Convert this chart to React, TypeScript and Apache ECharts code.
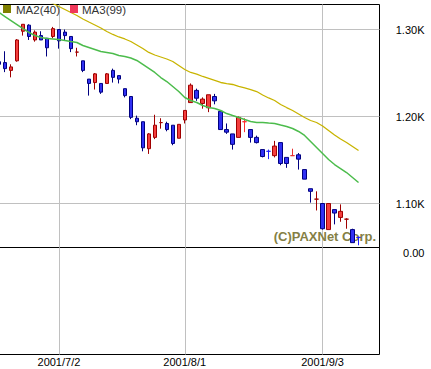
import React, { useEffect, useRef } from 'react';
import * as echarts from 'echarts';

const dates = [
  '2001/6/18','2001/6/19','2001/6/20','2001/6/21','2001/6/22','2001/6/25','2001/6/26','2001/6/27','2001/6/28','2001/6/29',
  '2001/7/2','2001/7/3','2001/7/4','2001/7/5','2001/7/6','2001/7/9','2001/7/10','2001/7/11','2001/7/12','2001/7/13',
  '2001/7/16','2001/7/18','2001/7/19','2001/7/20','2001/7/23','2001/7/24','2001/7/25','2001/7/26','2001/7/27',
  '2001/7/30','2001/7/31','2001/8/1','2001/8/2','2001/8/3','2001/8/6','2001/8/7','2001/8/8','2001/8/9','2001/8/10',
  '2001/8/13','2001/8/14','2001/8/15','2001/8/16','2001/8/17','2001/8/20','2001/8/21','2001/8/22','2001/8/23','2001/8/24',
  '2001/8/27','2001/8/28','2001/8/29','2001/8/30','2001/8/31','2001/9/3','2001/9/4','2001/9/5','2001/9/6','2001/9/7',
  '2001/9/10','2001/9/11','2001/9/12','2001/9/13','2001/9/14',
];

const opens = [1263,1262,1253,1264,1298,1305,1288,1293,1290,1292,1300,1297,1292,1274,1264,1243,1239,1238,1238,1253,1247,1232,1223,1198,1194,1163,1176,1193,1192,1190,1175,1196,1216,1230,1215,1210,1223,1206,1185,1180,1176,1194,1185,1176,1162,1160,1155,1170,1153,1155,1156,1139,1117,1105,1100,1070,1093,1084,1082,1070,1061];
const closes = [1260,1255,1257,1288,1306,1292,1297,1288,1279,1301,1287,1293,1278,1274,1253,1238,1249,1228,1249,1245,1243,1224,1199,1194,1164,1180,1190,1193,1185,1169,1191,1207,1236,1221,1220,1225,1218,1185,1182,1168,1199,1194,1176,1170,1154,1160,1166,1146,1146,1155,1151,1128,1114,1105,1071,1100,1089,1091,1082,1055,1061];
const lows = [1257,1251,1245,1263,1293,1288,1286,1288,1269,1290,1278,1288,1274,1269,1251,1224,1231,1226,1238,1239,1238,1222,1197,1190,1160,1157,1174,1186,1183,1167,1175,1192,1216,1218,1209,1205,1214,1185,1180,1162,1176,1182,1170,1169,1153,1151,1153,1144,1141,1155,1139,1128,1101,1092,1070,1070,1076,1079,1071,1055,1052];
const highs = [1267,1275,1260,1289,1306,1306,1299,1298,1290,1303,1300,1300,1292,1279,1264,1243,1250,1238,1250,1255,1247,1232,1223,1201,1194,1181,1202,1198,1194,1190,1191,1207,1238,1232,1222,1225,1226,1206,1192,1180,1200,1198,1185,1178,1162,1162,1172,1170,1153,1163,1158,1139,1117,1114,1100,1100,1093,1099,1083,1071,1062];

const ma1 = [1319.5,1314.9,1310.3,1305.7,1301.1,1296.6,1293.1,1290.8,1289.7,1289.1,1288.5,1287.4,1286.2,1285.1,1281.6,1279.3,1277.0,1274.7,1273.6,1272.4,1270.1,1269.0,1267.2,1264.4,1259.8,1255.2,1250.6,1244.8,1240.2,1234.5,1228.7,1221.8,1218.4,1216.1,1212.6,1210.3,1209.2,1206.9,1203.4,1201.1,1198.9,1196.5,1194.2,1193.1,1193.1,1192.5,1192.0,1190.2,1188.5,1186.2,1182.8,1178.2,1171.3,1164.4,1157.5,1150.6,1144.8,1140.2,1135.6,1129.9,1124.1];
const ma2 = [null,null,null,null,null,null,null,null,1333.3,1329.9,1326.4,1323.0,1319.5,1316.1,1312.1,1308.6,1305.2,1301.7,1297.7,1294.3,1291.4,1289.1,1286.2,1282.2,1278.2,1273.6,1270.7,1268.4,1266.1,1263.2,1258.6,1254.0,1250.6,1248.8,1246.0,1243.7,1241.4,1239.1,1237.9,1236.8,1234.5,1232.8,1231.0,1228.7,1224.7,1221.3,1218.4,1213.8,1210.3,1206.9,1202.9,1198.9,1195.4,1193.1,1189.1,1183.9,1178.7,1174.1,1170.1,1165.5,1160.9];

const labelDates = ['2001/7/2', '2001/8/1', '2001/9/3'];
const legendNames = ['MA2(40)', 'MA3(99)'];
const copyright = '(C)PAXNet Corp.';

// colours of the doji crosses (style only)
const dojiColors: Record<number, string> = {
  13: '#a00000', 27: '#a00000', 41: '#ff3030', 45: '#2020ff',
  49: '#e83030', 53: '#a00000', 58: '#a00000', 60: '#2020ff',
};

const FONT = 'Liberation Sans, Arial, sans-serif';

export default function App() {
  const ref = useRef<HTMLDivElement>(null);
  useEffect(() => {
    if (!ref.current) return;
    const chart = echarts.init(ref.current, undefined, { renderer: 'svg' });
    const candleData = opens.map((o, i) => {
      const v = [o, closes[i], lows[i], highs[i]];
      const dc = dojiColors[i];
      return dc
        ? { value: v, itemStyle: { color: dc, color0: dc, borderColor: dc, borderColor0: dc, borderColorDoji: dc } }
        : v;
    });
    const isLabel = (_i: number, v: string) => labelDates.indexOf(v) >= 0;
    const xCommon = {
      type: 'category' as const,
      data: dates,
      boundaryGap: true,
      axisLine: { show: false },
      axisTick: { show: false },
      splitLine: {
        show: true,
        interval: isLabel,
        alignWithLabel: true,
        lineStyle: { color: '#c0c0c0', width: 1 },
      },
    };
    chart.setOption({
      animation: false,
      backgroundColor: '#ffffff',
      grid: [
        { left: 0, top: 4.5, width: 383.5, height: 243, show: true, borderColor: '#000', borderWidth: 1, backgroundColor: 'transparent', outerBoundsMode: 'none' },
        { left: 0, top: 247.5, width: 383.5, height: 107, show: true, borderColor: '#000', borderWidth: 1, backgroundColor: 'transparent', outerBoundsMode: 'none' },
      ],
      xAxis: [
        { ...xCommon, gridIndex: 0, axisLabel: { show: false } },
        {
          ...xCommon, gridIndex: 1,
          axisLabel: { show: true, interval: isLabel, color: '#000', fontSize: 11, fontFamily: FONT, margin: 2 },
        },
      ],
      yAxis: [
        {
          type: 'value', gridIndex: 0, position: 'right',
          min: 1049.43, max: 1328.74, splitNumber: 3, scale: true,
          axisLine: { show: false }, axisTick: { show: false },
          splitLine: { show: true, showMinLine: false, showMaxLine: false, lineStyle: { color: '#c0c0c0', width: 1 } },
          axisLabel: {
            showMinLabel: false, showMaxLabel: false, align: 'right', margin: 45,
            color: '#000', fontSize: 11, fontFamily: FONT,
            formatter: (v: number) => (v / 1000).toFixed(2) + 'K',
          },
        },
        {
          type: 'value', gridIndex: 1, position: 'right', min: -1, max: 0, interval: 1,
          axisLine: { show: false }, axisTick: { show: false }, splitLine: { show: false },
          axisLabel: {
            align: 'right', margin: 45, verticalAlign: 'top', color: '#000', fontSize: 11, fontFamily: FONT,
            formatter: (v: number) => (v === 0 ? '0.00' : ''),
          },
        },
      ],
      graphic: [
        { type: 'rect', x: 7, y: 5, shape: { x: 0, y: 0, width: 8, height: 8 }, style: { fill: '#808000' }, z: 10 },
        { type: 'text', x: 20, y: 9.5, style: { text: legendNames[0], fill: '#333', font: `11.5px ${FONT}`, verticalAlign: 'middle' }, z: 10 },
        { type: 'rect', x: 74, y: 5, shape: { x: 0, y: 0, width: 8, height: 8 }, style: { fill: '#f0385a' }, z: 10 },
        { type: 'text', x: 86, y: 9.5, style: { text: legendNames[1], fill: '#333', font: `11.5px ${FONT}`, verticalAlign: 'middle' }, z: 10 },
        { type: 'text', x: 380, y: 236, style: { text: copyright, fill: '#857f45', font: `bold 13px ${FONT}`, align: 'right', verticalAlign: 'middle' }, z: 1 },
      ],
      series: [
        {
          type: 'candlestick', xAxisIndex: 0, yAxisIndex: 0, barWidth: 4, z: 3,
          data: candleData,
          itemStyle: { color: '#f43e3e', color0: '#3030f4', borderColor: '#a00000', borderColor0: '#000080', borderWidth: 1 },
        },
        {
          type: 'line', name: 'MA1', xAxisIndex: 0, yAxisIndex: 0, data: ma1, showSymbol: false, symbol: 'none',
          lineStyle: { color: '#4cbc4c', width: 1.5 }, z: 4,
        },
        {
          type: 'line', name: 'MA2(40)', xAxisIndex: 0, yAxisIndex: 0, data: ma2, showSymbol: false, symbol: 'none',
          lineStyle: { color: '#c8b400', width: 1.3 }, z: 4,
        },
      ],
    });
    return () => chart.dispose();
  }, []);
  return <div ref={ref} style={{ position: 'absolute', left: -4, top: 0, width: 435, height: 369 }} />;
}
